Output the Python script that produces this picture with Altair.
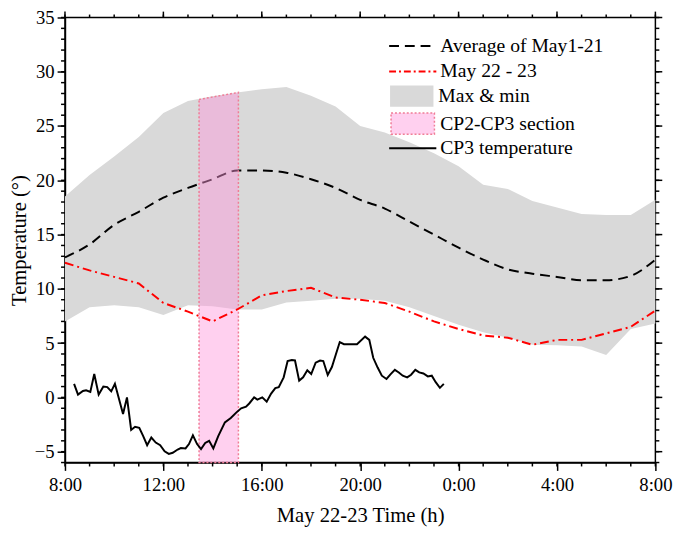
import altair as alt
import pandas as pd

# ---------------- data ----------------
hours = [8, 9, 10, 11, 12, 13, 14, 15, 16, 17, 18, 19, 20, 21, 22, 23, 24, 25, 26, 27, 28, 29, 30, 31, 32]
band_max = [18.5, 20.5, 22.2, 24.0, 26.2, 27.3, 27.75, 28.1, 28.4, 28.6, 27.8, 26.8, 25.0, 24.4, 23.5, 22.5, 21.3, 19.6, 19.2, 18.1, 17.5, 16.9, 16.8, 16.8, 18.2]
band_min = [7.0, 8.3, 8.5, 8.3, 7.6, 8.5, 8.4, 8.1, 8.1, 8.75, 8.9, 9.1, 9.1, 8.9, 8.3, 7.5, 6.7, 6.0, 5.5, 4.85, 4.8, 4.7, 3.9, 6.3, 6.8]
avg_may1_21 = [12.9, 14.1, 15.9, 17.1, 18.4, 19.3, 20.1, 20.9, 20.9, 20.7, 20.1, 19.3, 18.2, 17.4, 16.2, 15.0, 13.8, 12.7, 11.8, 11.4, 11.1, 10.8, 10.8, 11.2, 12.7]
may22_23 = [12.4, 11.7, 11.1, 10.5, 8.7, 7.9, 7.0, 8.1, 9.4, 9.8, 10.1, 9.2, 9.0, 8.7, 7.9, 7.0, 6.3, 5.7, 5.5, 4.85, 5.3, 5.3, 5.9, 6.5, 8.0]

cp3_time = [8.37, 8.53, 8.73, 8.86, 9.03, 9.19, 9.37, 9.56, 9.72, 9.88, 10.03, 10.21, 10.36, 10.52,
            10.69, 10.85, 11.02, 11.18, 11.34, 11.51, 11.69, 11.87, 12.05, 12.22, 12.38, 12.58, 12.71,
            12.9, 13.04, 13.2, 13.37, 13.53, 13.7, 13.86, 14.03, 14.23, 14.5, 14.74, 14.96, 15.16,
            15.36, 15.49, 15.69, 15.82, 16.02, 16.2, 16.38, 16.55, 16.69, 16.89, 17.05, 17.22, 17.35,
            17.52, 17.68, 17.85, 18.01, 18.19, 18.37, 18.5, 18.68, 18.85, 19.01, 19.17, 19.34, 19.67,
            19.87, 20.2, 20.37, 20.53, 20.71, 20.88, 21.07, 21.24, 21.41, 21.57, 21.73, 21.91, 22.07,
            22.24, 22.4, 22.57, 22.75, 22.91, 23.07, 23.24, 23.4]
cp3_temp = [1.25, 0.26, 0.59, 0.65, 0.5, 2.15, 0.26, 1.0, 0.95, 0.56, 1.25, -0.26, -1.52, 0.0,
            -3.0, -2.7, -2.8, -3.56, -4.4, -3.7, -4.16, -4.4, -4.97, -5.2, -5.1, -4.8, -4.67,
            -4.7, -4.3, -3.5, -4.3, -4.76, -4.2, -4.0, -4.7, -3.56, -2.3, -1.9, -1.4, -1.0,
            -0.86, -0.56, 0.0, -0.2, 0.0, -0.4, 0.35, 0.86, 0.95, 1.85, 3.35, 3.44, 3.4,
            1.55, 1.85, 2.5, 2.15, 3.2, 3.4, 3.35, 2.06, 2.8, 3.95, 5.1, 4.9, 4.9,
            4.9, 5.6, 5.3, 3.65, 2.75, 2.0, 1.7, 2.14, 2.54, 2.3, 2.0, 1.85, 2.09,
            2.54, 2.3, 2.2, 1.94, 2.0, 1.4, 0.88, 1.25]

section_time = [13.45, 15.05]
section_top = [27.45, 28.1]
section_bottom = [-6, -6]

x_major = [8, 12, 16, 20, 24, 28, 32]
x_minor = [8, 9, 10, 11, 12, 13, 14, 15, 16, 17, 18, 19, 20, 21, 22, 23, 24, 25, 26, 27, 28, 29, 30, 31, 32]
y_major = [-5, 0, 5, 10, 15, 20, 25, 30, 35]
y_minor = [-6, -5, -4, -3, -2, -1, 0, 1, 2, 3, 4, 5, 6, 7, 8, 9, 10, 11, 12, 13, 14, 15, 16, 17, 18,
           19, 20, 21, 22, 23, 24, 25, 26, 27, 28, 29, 30, 31, 32, 33, 34, 35]

labels = ["Average of May1-21", "May 22 - 23", "Max & min", "CP2-CP3 section", "CP3 temperature"]

# ---------------- tables ----------------
band_df = pd.DataFrame({"t": hours, "hi": band_max, "lo": band_min, "s": labels[2]})
avg_df = pd.DataFrame({"t": hours, "v": avg_may1_21, "s": labels[0]})
may_df = pd.DataFrame({"t": hours, "v": may22_23, "s": labels[1]})
sec_df = pd.DataFrame({"t": section_time, "hi": section_top, "lo": section_bottom, "s": labels[3]})
cp3_df = pd.DataFrame({"t": cp3_time, "v": cp3_temp, "s": labels[4]})

W, H = 601, 453
FONT = "Liberation Serif"
xs = alt.Scale(domain=[8, 32], nice=False, zero=False)
ys = alt.Scale(domain=[-6, 35], nice=False, zero=False)

x_axis = alt.Axis(orient="bottom", values=x_major, tickSize=8, grid=False,
                  tickColor="black", domainColor="black", domainWidth=1.5, tickWidth=1.5,
                  labelExpr="(datum.value % 24) + ':00'", labelFont=FONT, labelFontSize=19,
                  labelColor="black", labelPadding=5, labelFlush=False, labelOverlap=False,
                  title="May 22-23 Time (h)", titleFont=FONT, titleFontSize=21,
                  titleFontWeight="normal", titleColor="black", titlePadding=11)
y_axis = alt.Axis(orient="left", values=y_major, tickSize=8, grid=False,
                  tickColor="black", domainColor="black", domainWidth=1.5, tickWidth=1.5,
                  labelFont=FONT, labelFontSize=19, labelColor="black", labelPadding=3,
                  labelFlush=False, labelOverlap=False,
                  title="Temperature (°)", titleFont=FONT, titleFontSize=21,
                  titleFontWeight="normal", titleColor="black", titlePadding=5)


def legend(y, shape, dash=None, stroke=None, sw=2.0):
    kw = dict(orient="none", legendX=329, legendY=y, title=None, symbolType=shape,
              symbolSize=2304, symbolStrokeWidth=sw, labelFont=FONT, labelFontSize=20,
              labelColor="black", padding=0, labelOffset=3, labelLimit=400)
    if dash is not None:
        kw["symbolDash"] = dash
    if stroke is not None:
        kw["symbolStrokeColor"] = stroke
    return alt.Legend(**kw)


RECT = "M-0.92,-0.45H0.92V0.45H-0.92Z"
GRAY = "#D9D9D9"
PINK = "rgba(255,150,220,0.45)"
PINK_EDGE = "#F07C96"
RED = "#FF0000"
AVG_DASH = [10, 6]
RED_DASH = [9, 4, 2, 4]

band = alt.Chart(band_df).mark_area(strokeWidth=0).encode(
    x=alt.X("t:Q", scale=xs, axis=x_axis),
    y=alt.Y("hi:Q", scale=ys, axis=y_axis),
    y2="lo:Q",
    color=alt.Color("s:N", scale=alt.Scale(domain=[labels[2]], range=[GRAY]),
                    legend=legend(56, RECT, stroke=GRAY, sw=0)),
)

avg = alt.Chart(avg_df).mark_line(strokeWidth=2, strokeDash=AVG_DASH, interpolate="monotone").encode(
    x=alt.X("t:Q", scale=xs, axis=None),
    y=alt.Y("v:Q", scale=ys, axis=None),
    color=alt.Color("s:N", scale=alt.Scale(domain=[labels[0]], range=["black"]),
                    legend=legend(4, "stroke", dash=AVG_DASH)),
)

section = alt.Chart(sec_df).mark_area(stroke=PINK_EDGE, strokeWidth=1.5, strokeDash=[2, 2]).encode(
    x=alt.X("t:Q", scale=xs, axis=None),
    y=alt.Y("hi:Q", scale=ys, axis=None),
    y2="lo:Q",
    color=alt.Color("s:N", scale=alt.Scale(domain=[labels[3]], range=[PINK]),
                    legend=legend(83, RECT, dash=[2, 2], stroke=PINK_EDGE, sw=1.5)),
)

may = alt.Chart(may_df).mark_line(strokeWidth=2, strokeDash=RED_DASH).encode(
    x=alt.X("t:Q", scale=xs, axis=None),
    y=alt.Y("v:Q", scale=ys, axis=None),
    color=alt.Color("s:N", scale=alt.Scale(domain=[labels[1]], range=[RED]),
                    legend=legend(30, "stroke", dash=[7, 3, 2, 3])),
)

cp3 = alt.Chart(cp3_df).mark_line(strokeWidth=2).encode(
    x=alt.X("t:Q", scale=xs, axis=None),
    y=alt.Y("v:Q", scale=ys, axis=None),
    color=alt.Color("s:N", scale=alt.Scale(domain=[labels[4]], range=["black"]),
                    legend=legend(108, "stroke")),
)


# tick marks on the frame (minor ticks, and the top / right sides)
def x_ticks(values, p0, p1):
    return alt.Chart(pd.DataFrame({"t": values})).mark_rule(color="black", strokeWidth=1.5).encode(
        x=alt.X("t:Q", scale=xs, axis=None), y=alt.value(p0), y2=alt.value(p1))


def y_ticks(values, p0, p1):
    return alt.Chart(pd.DataFrame({"v": values})).mark_rule(color="black", strokeWidth=1.5).encode(
        y=alt.Y("v:Q", scale=ys, axis=None), x=alt.value(p0), x2=alt.value(p1))


ticks = [
    x_ticks(x_minor, H, H + 4),
    x_ticks(x_major, 0, -6),
    x_ticks(x_minor, 0, -3),
    y_ticks(y_minor, 0, -4),
    y_ticks(y_major, W, W + 7),
    y_ticks(y_minor, W, W + 4),
]

chart = alt.layer(band, avg, section, may, cp3, *ticks).properties(
    resolve=alt.Resolve(
        scale=alt.ScaleResolveMap(color="independent"),
        axis=alt.AxisResolveMap(x="independent", y="independent"),
    ),
    width=W, height=H,
    padding={"left": 0, "top": -4, "right": 5, "bottom": 0},
    background="white",
).configure_view(stroke="black", strokeWidth=1.5).configure_legend(labelFont=FONT, labelFontSize=20)

chart.save("out.html", embed_options={"renderer": "svg", "actions": False})
